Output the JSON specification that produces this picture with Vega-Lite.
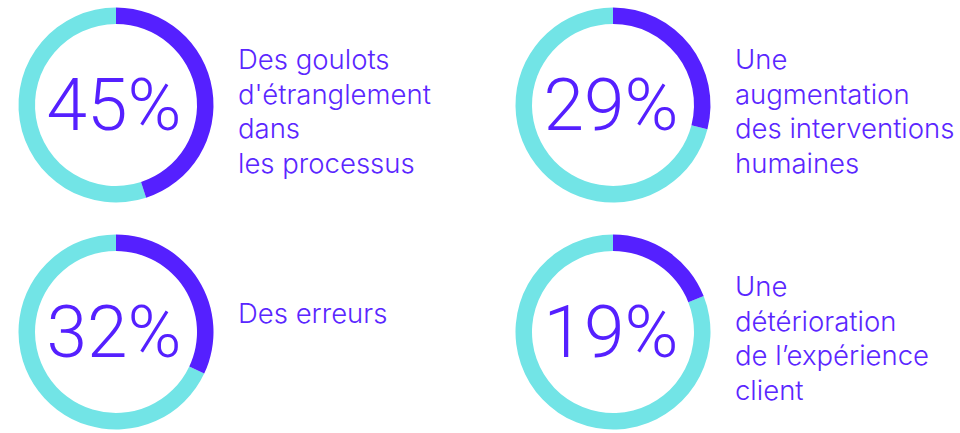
{
  "$schema": "https://vega.github.io/schema/vega-lite/v6.json",
  "width": 960,
  "height": 433,
  "autosize": {"type": "fit", "contains": "padding"},
  "padding": 0,
  "background": "#ffffff",
  "view": {"stroke": null},
  "data": {
    "values": [
      {"row": "haut", "col": "gauche", "pct": 0.45, "label": "Des goulots\nd'étranglement\ndans\nles processus"},
      {"row": "haut", "col": "droite", "pct": 0.29, "label": "Une\naugmentation\ndes interventions\nhumaines"},
      {"row": "bas", "col": "gauche", "pct": 0.32, "label": "Des erreurs"},
      {"row": "bas", "col": "droite", "pct": 0.19, "label": "Une\ndétérioration\nde l’expérience\nclient"}
    ]
  },
  "encoding": {
    "x": {"field": "col", "type": "nominal", "axis": null, "scale": {"type": "point", "padding": 0, "domain": ["gauche", "droite"], "range": [116, 613]}},
    "y": {"field": "row", "type": "nominal", "axis": null, "scale": {"type": "point", "padding": 0, "domain": ["haut", "bas"], "range": [105, 332]}}
  },
  "layer": [
    {
      "mark": {"type": "arc", "innerRadius": 81, "outerRadius": 97.5, "color": "#72E4E6"},
      "encoding": {
        "theta": {"field": "pct", "type": "quantitative", "scale": {"domain": [0, 1], "range": [0, 6.283185307179586]}},
        "theta2": {"datum": 1}
      }
    },
    {
      "mark": {"type": "arc", "innerRadius": 81, "outerRadius": 97.5, "color": "#5520FF"},
      "encoding": {
        "theta": {"field": "pct", "type": "quantitative"},
        "theta2": {"datum": 0}
      }
    },
    {
      "mark": {"type": "text", "font": "Roboto", "fontWeight": 300, "fontSize": 73, "color": "#5520FF", "align": "center", "baseline": "middle", "dx": -2, "dy": 3},
      "encoding": {
        "text": {"field": "pct", "type": "quantitative", "format": ".0%"}
      }
    },
    {
      "transform": [{"filter": "indexof(datum.label, '\\n') >= 0"}],
      "mark": {"type": "text", "font": "Inter", "fontWeight": 300, "fontSize": 27.5, "color": "#5A26FF", "align": "left", "baseline": "alphabetic", "dx": 122, "dy": -36, "lineBreak": "\n", "lineHeight": 34.5},
      "encoding": {
        "text": {"field": "label", "type": "nominal"}
      }
    },
    {
      "transform": [{"filter": "indexof(datum.label, '\\n') < 0"}],
      "mark": {"type": "text", "font": "Inter", "fontWeight": 300, "fontSize": 27.5, "color": "#5A26FF", "align": "left", "baseline": "alphabetic", "dx": 122, "dy": -9},
      "encoding": {
        "text": {"field": "label", "type": "nominal"}
      }
    }
  ]
}
